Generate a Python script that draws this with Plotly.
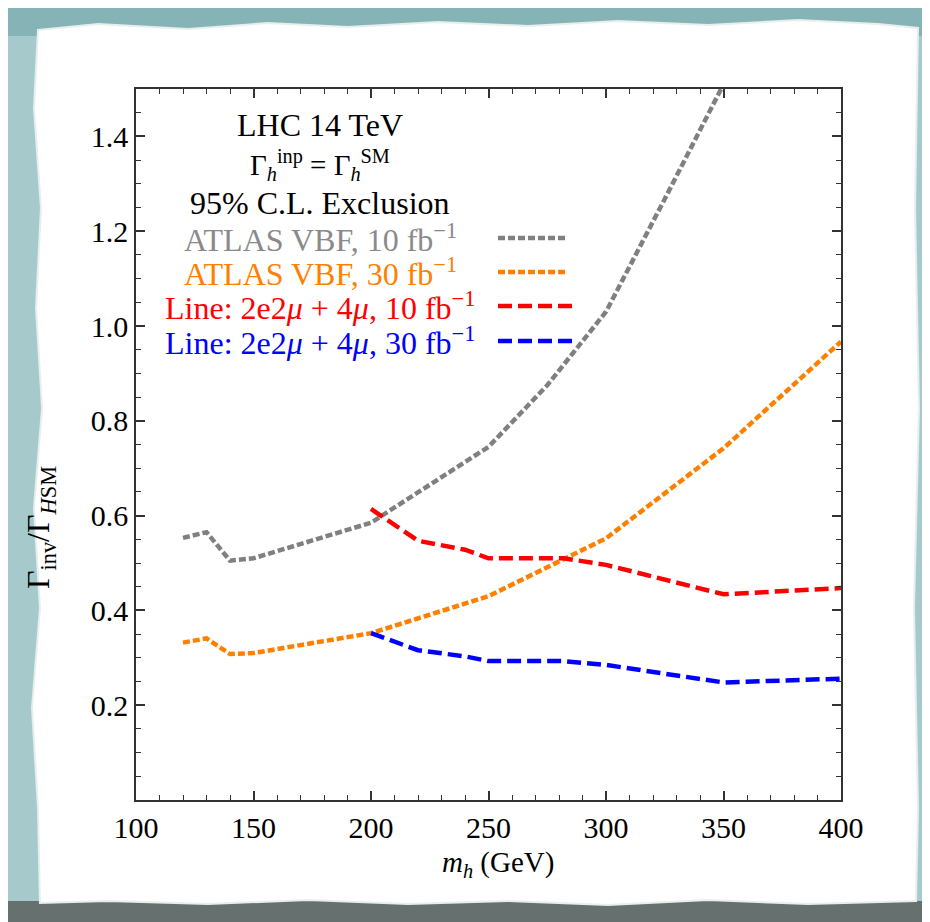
import plotly.graph_objects as go

# ---- data ----
mh_vbf = [120, 130, 140, 150, 200, 250, 275, 300, 325, 350]
vbf_10 = [0.553, 0.565, 0.505, 0.510, 0.585, 0.745, 0.875, 1.030, 1.268, 1.510]
mh_vbf30 = [120, 130, 140, 150, 200, 250, 300, 350, 400]
vbf_30 = [0.332, 0.341, 0.308, 0.310, 0.352, 0.430, 0.552, 0.742, 0.967]

mh_line = [200, 220, 240, 250, 282, 300, 350, 400]
line_10 = [0.614, 0.547, 0.528, 0.510, 0.510, 0.496, 0.434, 0.447]
line_30 = [0.352, 0.316, 0.303, 0.293, 0.293, 0.285, 0.248, 0.256]

x_ticks = [100, 150, 200, 250, 300, 350, 400]
y_ticks = [0.2, 0.4, 0.6, 0.8, 1.0, 1.2, 1.4]

series = [
    ("ATLAS VBF, 10 fb<sup>−1</sup>", mh_vbf, vbf_10, "#808080", "#8a8a8a", "7px,3px"),
    ("ATLAS VBF, 30 fb<sup>−1</sup>", mh_vbf30, vbf_30, "#ff8000", "#ff8000", "7px,3px"),
    ("Line: 2e2<i>μ</i> + 4<i>μ</i>, 10 fb<sup>−1</sup>", mh_line, line_10, "#ff0000", "#ff0000", "14px,6px"),
    ("Line: 2e2<i>μ</i> + 4<i>μ</i>, 30 fb<sup>−1</sup>", mh_line, line_30, "#0000ff", "#0000ff", "14px,6px"),
]

FONT = "Liberation Serif"
W, H = 930.0, 922.0
ML, MR, MT, MB = 128, 97, 81, 130
PW, PH = W - ML - MR, H - MT - MB

def px(p):
    return (p - ML) / PW
def py(p):
    return (H - MB - p) / PH

fig = go.Figure()
for name, xs, ys, col, tcol, dash in series:
    fig.add_trace(go.Scatter(x=xs, y=ys, mode="lines", name=name, showlegend=False,
                             line=dict(color=col, width=4.5, dash=dash)))

# page decoration: teal background with a white, slightly torn sheet
edge_pts = [(30, 22), (90, 16), (180, 21), (260, 15), (340, 19), (430, 14), (520, 18), (610, 13),
            (700, 17), (790, 12), (870, 16), (910, 20), (907, 200), (911, 400), (906, 600),
            (910, 800), (908, 893), (800, 896), (700, 892), (600, 897), (500, 893), (400, 896),
            (300, 892), (200, 896), (100, 893), (32, 895), (30, 800), (24, 700), (32, 600),
            (26, 500), (34, 400), (28, 300), (33, 200), (26, 100)]
page = "M " + " L ".join(f"{px(x):.4f} {py(y):.4f}" for x, y in edge_pts) + " Z"

shapes = [
    dict(type="rect", xref="paper", yref="paper", x0=px(0), x1=px(W), y0=py(H), y1=py(893),
         fillcolor="#66706f", line=dict(width=0), layer="below"),
    dict(type="rect", xref="paper", yref="paper", x0=px(0), x1=px(W), y0=py(28), y1=py(0),
         fillcolor="#86b3b6", line=dict(width=0), layer="below"),
    dict(type="path", path=page, xref="paper", yref="paper", layer="below",
         fillcolor="white", line=dict(color="#e6eeee", width=2)),
]
annotations = []

cx = px(312)
head = [("LHC 14 TeV", 117, 32), ("Γ<sub><i>h</i></sub><sup>inp</sup> = Γ<sub><i>h</i></sub><sup>SM</sup>", 157, 29),
        ("95% C.L. Exclusion", 195, 32)]
for t, yy, fs in head:
    annotations.append(dict(text=t, x=cx, y=py(yy), xref="paper", yref="paper", showarrow=False,
                            xanchor="center", yanchor="middle",
                            font=dict(family=FONT, size=fs, color="black")))
rows = [230, 264, 298, 333]
for (name, xs, ys, col, tcol, dash), yy in zip(series, rows):
    annotations.append(dict(text=name, x=cx, y=py(yy), xref="paper", yref="paper", showarrow=False,
                            xanchor="center", yanchor="middle",
                            font=dict(family=FONT, size=32, color=tcol)))
    x1 = 560 if "VBF" in name else 568
    shapes.append(dict(type="line", xref="paper", yref="paper", x0=px(490), x1=px(x1),
                       y0=py(yy), y1=py(yy), line=dict(color=col, width=4.5, dash=dash)))

annotations.append(dict(text="Γ<sub>inv</sub>/Γ<sub><i>H</i></sub><sub>SM</sub>", x=px(32), y=py(520),
                        xref="paper", yref="paper", showarrow=False, textangle=-90,
                        xanchor="center", yanchor="middle", font=dict(family=FONT, size=32, color="black")))
annotations.append(dict(text="<i>m</i><sub><i>h</i></sub> (GeV)", x=px(490), y=py(856),
                        xref="paper", yref="paper", showarrow=False,
                        xanchor="center", yanchor="middle", font=dict(family=FONT, size=29, color="black")))

fig.update_layout(
    width=930, height=922,
    margin=dict(l=ML, r=MR, t=MT, b=MB),
    paper_bgcolor="#a6cacb", plot_bgcolor="rgba(0,0,0,0)",
    shapes=shapes,
    annotations=annotations,
    showlegend=False,
)

axis_common = dict(showline=True, linecolor="#333333", linewidth=1.5, mirror="ticks",
                   ticks="inside", ticklen=9, tickcolor="#333333", tickwidth=1.5,
                   showgrid=False, zeroline=False,
                   tickfont=dict(family=FONT, size=30, color="black"))
fig.update_xaxes(range=[100, 400], tickvals=x_ticks, ticktext=[str(v) for v in x_ticks],
                 minor=dict(dtick=10, ticks="inside", ticklen=5, tickcolor="#333333", tickwidth=1.2,
                            showgrid=False), **axis_common)
fig.update_yaxes(range=[0, 1.5], tickvals=y_ticks, ticktext=[f"{v:.1f}" for v in y_ticks],
                 minor=dict(dtick=0.05, tick0=0, ticks="inside", ticklen=5, tickcolor="#333333",
                            tickwidth=1.2, showgrid=False), **axis_common)

fig.write_html("out.html")
